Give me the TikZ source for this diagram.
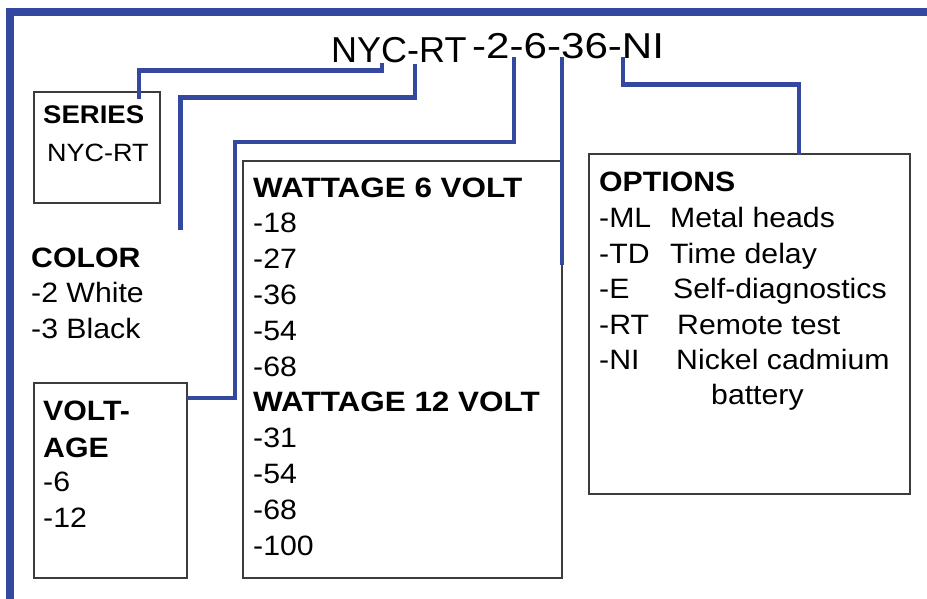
\documentclass[tikz,border=0pt]{standalone}
\usepackage{fontspec}
\usepackage{graphicx}
\setmainfont{Liberation Sans}[FakeStretch=1.08]
\newfontfamily\titlefont{Liberation Sans}
\definecolor{frameblue}{RGB}{52,72,160}
\definecolor{boxgray}{RGB}{60,60,60}
\begin{document}
\begin{tikzpicture}[x=1pt,y=-1pt,
  frameline/.style={draw=frameblue,line width=8pt},
  link/.style={draw=frameblue,line width=4.5pt},
  infobox/.style={draw=boxgray,line width=1.6pt,inner sep=0pt,rectangle},
  txt/.style={anchor=base west,inner sep=0pt,font=\fontsize{28}{34}\selectfont},
  hd/.style={anchor=base west,inner sep=0pt,font=\fontsize{28}{34}\selectfont\bfseries},
  ttl/.style={anchor=base west,inner sep=0pt,font=\titlefont\fontsize{36}{40}\selectfont},
]
\useasboundingbox (0,0) rectangle (927,599);
% frame
\draw[frameline] (9.5,599) -- (9.5,12) -- (927,12);

% title
\node[ttl] (title1) at (331,63) {NYC-RT};
\node[ttl] (title2) at (472,59) {\scalebox{1.17}[1]{-2-6-36-NI}};

% boxes
\node[infobox,minimum width=126pt,minimum height=111pt] (series) at (97,147.5) {};
\node[infobox,minimum width=153pt,minimum height=195pt] (volt) at (110.5,480.5) {};
\node[infobox,minimum width=319pt,minimum height=417pt] (watt) at (402.5,369.5) {};
\node[infobox,minimum width=321pt,minimum height=340pt] (opts) at (749.5,324) {};

% connector points
\coordinate (tS) at (382,63);
\coordinate (tC) at (415,64);
\coordinate (tV) at (514,57);
\coordinate (tW) at (562,57);
\coordinate (tO) at (623,57);
\coordinate (eS) at (139,99);
\coordinate (eC) at (180.5,230);
\coordinate (eV) at (187,398);
\coordinate (eW) at (562,265);
\coordinate (eO) at (799,155);

\draw[link] (tS) -- (382,70.5) -- (139,70.5) -- (eS);
\draw[link] (tC) -- (415,97.5) -- (180.5,97.5) -- (eC);
\draw[link] (tV) -- (514,142) -- (235,142) -- (235,398) -- (eV);
\draw[link] (tW) -- (eW);
\draw[link] (tO) -- (623,84.5) -- (799,84.5) -- (eO);

% series text
\node[hd,font=\fontsize{25.5}{30}\selectfont\bfseries] (sH) at (43,124) {SERIES};
\node[txt,font=\fontsize{25}{30}\selectfont] (s1) at (47,162) {NYC-RT};

% color text
\node[hd] (cH) at (31,267) {COLOR};
\node[txt] (c1) at (31,302) {-2 White};
\node[txt] (c2) at (31,338) {-3 Black};

% voltage text
\node[hd] (vH1) at (43,420) {VOLT-};
\node[hd] (vH2) at (43,457) {AGE};
\node[txt] (v1) at (43,491) {-6};
\node[txt] (v2) at (43,527) {-12};

% wattage text
\node[hd] (wH1) at (253,197) {\scalebox{1.04}[1]{WATTAGE 6 VOLT}};
\node[txt] (w1) at (253,232.8) {-18};
\node[txt] (w2) at (253,268.6) {-27};
\node[txt] (w3) at (253,304.4) {-36};
\node[txt] (w4) at (253,340.2) {-54};
\node[txt] (w5) at (253,376) {-68};
\node[hd] (wH2) at (253,411.8) {\scalebox{1.04}[1]{WATTAGE 12 VOLT}};
\node[txt] (w6) at (253,447.6) {-31};
\node[txt] (w7) at (253,483.4) {-54};
\node[txt] (w8) at (253,519.2) {-68};
\node[txt] (w9) at (253,555) {-100};

% options text
\node[hd] (oH) at (599,192) {OPTIONS};
\node[txt] (o1a) at (599,227) {-ML};
\node[txt] (o1b) at (670,227) {Metal heads};
\node[txt] (o2a) at (599,263) {-TD};
\node[txt] (o2b) at (670,263) {Time delay};
\node[txt] (o3a) at (599,298) {-E};
\node[txt] (o3b) at (673,298) {Self-diagnostics};
\node[txt] (o4a) at (599,334) {-RT};
\node[txt] (o4b) at (677,334) {Remote test};
\node[txt] (o5a) at (599,369) {-NI};
\node[txt] (o5b) at (676,369) {Nickel cadmium};
\node[txt] (o6b) at (711,404) {battery};
\end{tikzpicture}
\end{document}
